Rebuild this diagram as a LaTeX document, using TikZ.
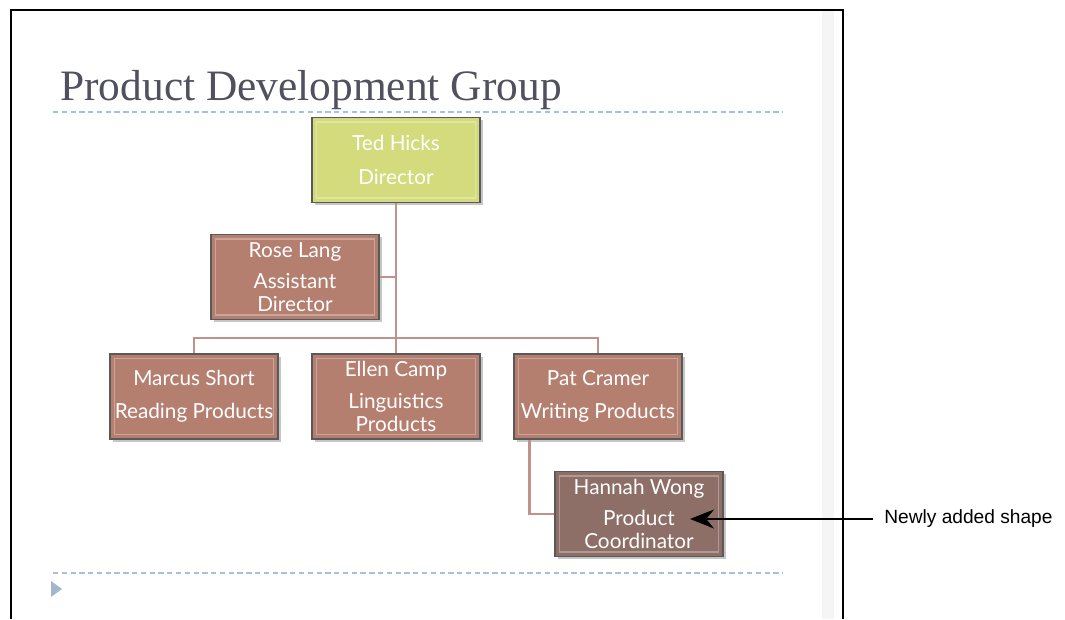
\documentclass[tikz,border=0pt]{standalone}
\usepackage{fontspec}
\setmainfont{Liberation Serif}
\newfontfamily\boxfont{Lato}
\newfontfamily\notefont{Liberation Sans}
\usepackage{tikz}
\usetikzlibrary{arrows.meta,positioning,shadows}

\definecolor{titlegray}{HTML}{50505F}
\definecolor{rulecol}{HTML}{A8C0DC}
\definecolor{leadfill}{HTML}{D3DB7C}
\definecolor{staffill}{HTML}{B57F70}
\definecolor{newfill}{HTML}{8D6F68}
\definecolor{linkcol}{HTML}{C1928A}

\tikzset{
  orgbox/.style={draw=black!65,line width=0.6pt,fill=staffill,minimum width=3.36cm,minimum height=1.7cm,
    align=center,font=\boxfont\fontsize{11.8}{13}\selectfont,text=white,inner sep=1pt,
    drop shadow={shadow xshift=1.5pt,shadow yshift=-1.5pt,opacity=0.45}},
  bevel/.style={draw=white,opacity=0.3,line width=0.8pt},
  conn/.style={draw=linkcol,line width=1.3pt},
  slide rule/.style={draw=rulecol,line width=0.7pt,dash pattern=on 3pt off 2pt}
}

\begin{document}
\begin{tikzpicture}[x=0.02cm,y=-0.02cm,>=Stealth]
\useasboundingbox (0,0) rectangle (1065,619);
% slide frame
\fill[black!4] (822,10) rectangle (834,619);
\draw[line width=1pt] (11,619) -- (11,10) -- (843,10) -- (843,619);
\node[anchor=base west,inner sep=0pt,text=titlegray,font=\fontsize{24.7}{28}\selectfont] (title) at (60,100) {Product Development Group};
\draw[slide rule] (53,112) -- (783,112);
\draw[slide rule] (53,573) -- (783,573);
\fill[rulecol!85!gray] (51,581) -- (62,589) -- (51,597) -- cycle;
% chart
\node[orgbox,fill=leadfill] (ted) at (396,160) {Ted Hicks\\[6pt]Director};
\node[orgbox] (rose) at (295,277) {Rose Lang\\[5pt]Assistant\\Director};
\node[orgbox] (marcus) at (194,396.5) {Marcus Short\\[6pt]Reading Products};
\node[orgbox] (ellen) at (396,396.5) {Ellen Camp\\[5pt]Linguistics\\Products};
\node[orgbox] (pat) at (598,396.5) {Pat Cramer\\[6pt]Writing Products};
\node[orgbox,fill=newfill] (hannah) at (639,514) {Hannah Wong\\[5pt]Product\\Coordinator};
\foreach \n in {ted,rose,marcus,ellen,pat,hannah}
  \draw[bevel] ([shift={(0.1cm,0.1cm)}]\n.south west) rectangle ([shift={(-0.1cm,-0.1cm)}]\n.north east);
\coordinate (bus) at (598,338);
\draw[conn] (ted.south) -- (ellen.north);
\draw[conn] (marcus.north) |- (bus) -- (pat.north);
\draw[conn] (rose.east) -- (rose.east -| ted.south);
\draw[conn] ([xshift=0.32cm]pat.south west) |- (hannah.west);
% callout
\node[anchor=west,inner sep=0pt,font=\notefont\fontsize{10.9}{13}\selectfont] (note) at (884,519) {Newly added shape};
\coordinate (tip) at (690,519);
\draw[line width=1.4pt,arrows={-Stealth[length=0.48cm,width=0.38cm]}] ([xshift=-0.22cm]note.west) -- (tip);
\end{tikzpicture}
\end{document}
